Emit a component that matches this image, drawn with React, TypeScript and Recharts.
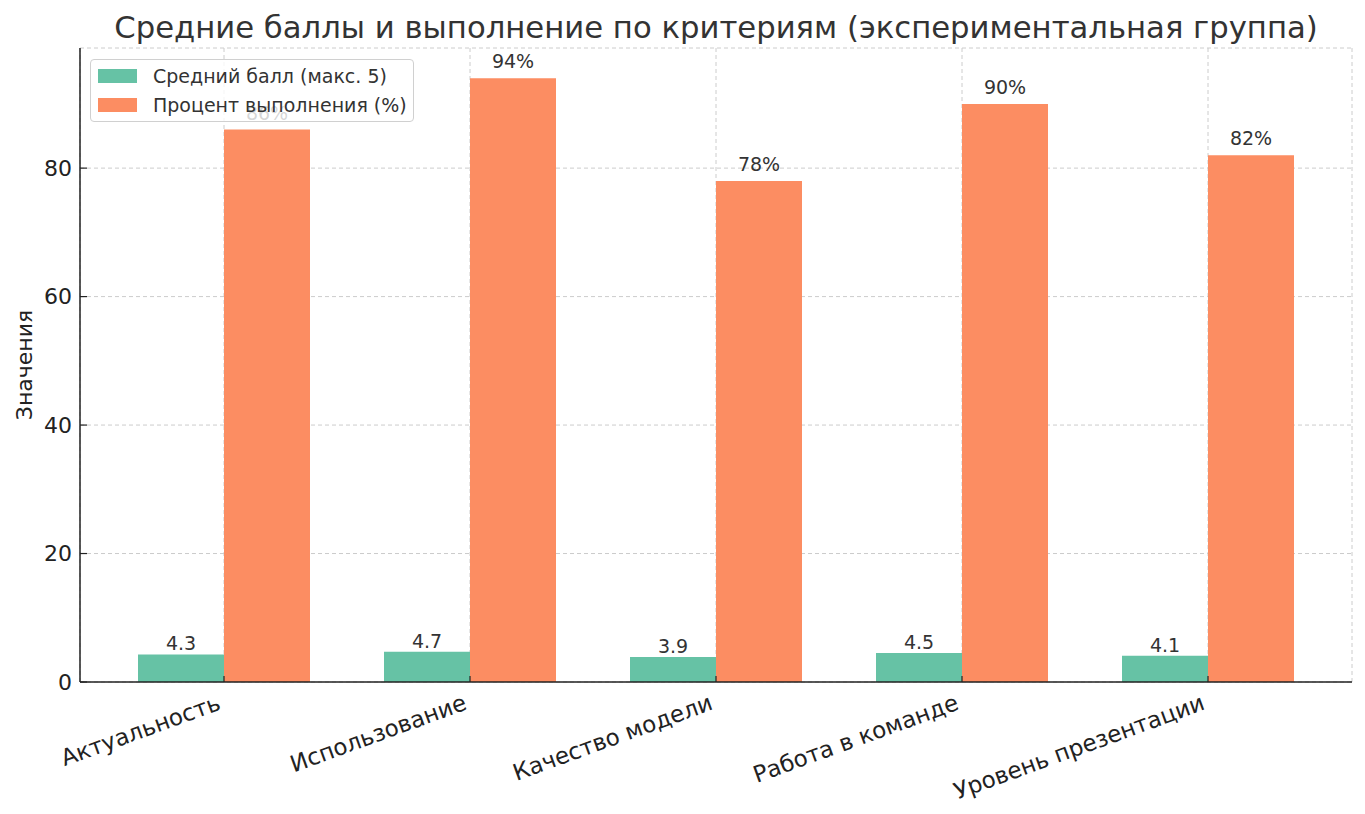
import React from 'react';
import { BarChart, Bar, XAxis, YAxis, CartesianGrid, LabelList, Legend } from 'recharts';

const categories = ['Актуальность', 'Использование', 'Качество модели', 'Работа в команде', 'Уровень презентации'];
const meanScores = [4.3, 4.7, 3.9, 4.5, 4.1];
const completionPct = [86, 94, 78, 90, 82];
const yTicks = [0, 20, 40, 60, 80];

const seriesNames = ['Средний балл (макс. 5)', 'Процент выполнения (%)'];
const seriesColors = ['#66c2a5', '#fc8d62'];

const data = categories.map((c, i) => ({ name: c, mean: meanScores[i], pct: completionPct[i] }));

const FONT = '"DejaVu Sans", sans-serif';

const XTick = (props: any) => {
  const { x, y, payload } = props;
  return (
    <g transform={`translate(${x - 2},${y + 27})`}>
      <text x={0} y={0} textAnchor="end" transform="rotate(-20)" fontSize={23} fill="#222" fontFamily={FONT}>
        {payload.value}
      </text>
    </g>
  );
};

const LegendContent = () => (
  <div
    style={{
      background: 'rgba(255,255,255,0.8)',
      border: '1px solid #d0d0d0',
      borderRadius: 4,
      padding: '1px 7px 2px 7px',
      fontFamily: FONT,
      fontSize: 19,
      color: '#333',
      boxSizing: 'border-box',
      width: 324,
    }}
  >
    {seriesNames.map((n, i) => (
      <div key={n} style={{ display: 'flex', alignItems: 'center', height: 29 }}>
        <span style={{ display: 'inline-block', width: 39, height: 14, background: seriesColors[i], marginRight: 16, flexShrink: 0 }} />
        <span style={{ whiteSpace: 'nowrap' }}>{n}</span>
      </div>
    ))}
  </div>
);

const YLabel = (props: any) => {
  const vb = props.viewBox || {};
  const cy = (vb.y ?? 48) + (vb.height ?? 634) / 2;
  const cx = 24;
  return (
    <text x={cx} y={cy} transform={`rotate(-90,${cx},${cy})`} textAnchor="middle" dominantBaseline="central" fontSize={22} fill="#222" fontFamily={FONT}>
      Значения
    </text>
  );
};

export default function App() {
  return (
    <div style={{ position: 'absolute', left: 0, top: 0, width: 1365, height: 814, background: '#fff' }}>
      <div
        style={{
          position: 'absolute',
          left: 80,
          width: 1272,
          top: 9,
          textAlign: 'center',
          fontFamily: FONT,
          fontSize: 30.7,
          lineHeight: '38px',
          color: '#333',
          whiteSpace: 'nowrap',
        }}
      >
        Средние баллы и выполнение по критериям (экспериментальная группа)
      </div>
      <BarChart
        width={1365}
        height={814}
        data={data}
        margin={{ top: 48, right: 13, bottom: 32, left: 20 }}
        barCategoryGap={37}
        barGap={0}
        style={{ fontFamily: FONT }}
      >
        <CartesianGrid strokeDasharray="4 3" stroke="#cccccc" />
        <XAxis
          dataKey="name"
          height={100}
          padding={{ left: 21, right: 21 }}
          tick={<XTick />}
          tickSize={-6}
          tickMargin={6}
          axisLine={{ stroke: '#222', strokeWidth: 1.5 }}
          tickLine={{ stroke: '#222', strokeWidth: 1.2 }}
          interval={0}
        />
        <YAxis
          width={60}
          domain={[0, 98.7]}
          ticks={yTicks}
          tickSize={-7}
          tickMargin={15}
          tick={{ fontSize: 22, fill: '#222', fontFamily: FONT }}
          axisLine={{ stroke: '#222', strokeWidth: 1.5 }}
          tickLine={{ stroke: '#222', strokeWidth: 1.2 }}
          label={<YLabel />}
        />
        <Legend
          verticalAlign="middle"
          align="center"
          layout="horizontal"
          content={<LegendContent />}
          wrapperStyle={{ position: 'absolute', left: 90, top: 59, width: 324, height: 64 }}
        />
        <Bar dataKey="mean" name={seriesNames[0]} fill={seriesColors[0]} isAnimationActive={false}>
          <LabelList dataKey="mean" position="top" offset={4} fontSize={19} fill="#333" fontFamily={FONT} />
        </Bar>
        <Bar dataKey="pct" name={seriesNames[1]} fill={seriesColors[1]} isAnimationActive={false}>
          <LabelList dataKey="pct" position="top" offset={10} fontSize={19} fill="#333" fontFamily={FONT} formatter={(v: any) => `${v}%`} />
        </Bar>
      </BarChart>
    </div>
  );
}
